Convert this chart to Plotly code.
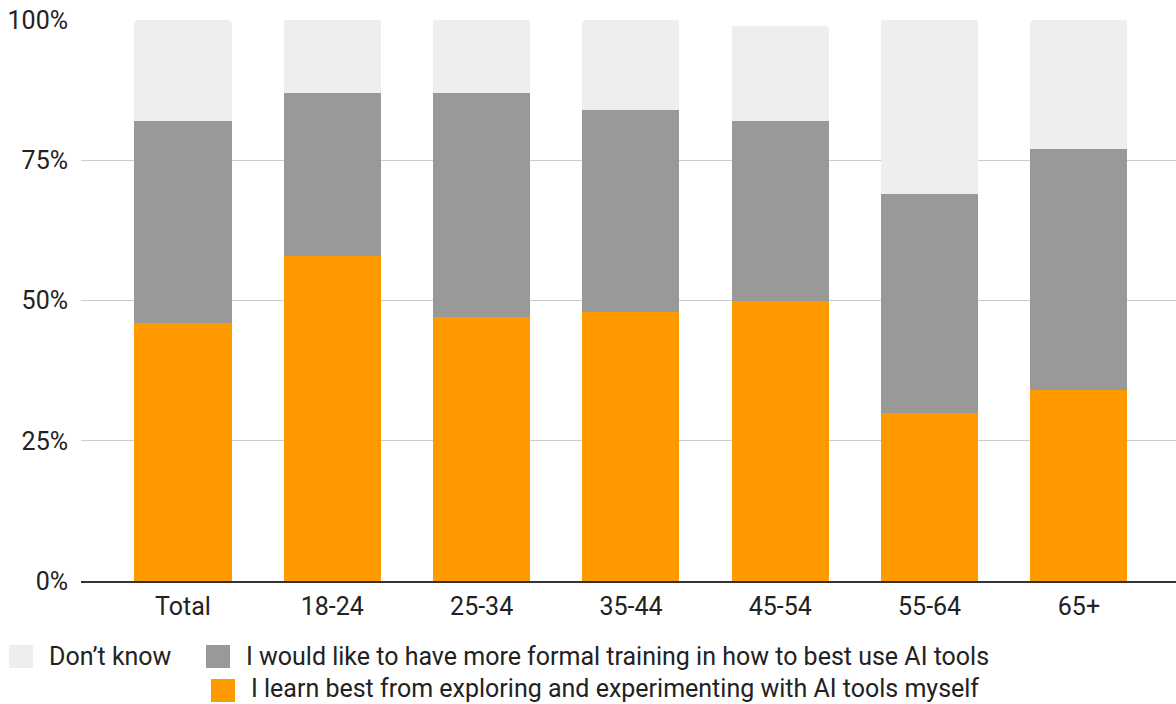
import plotly.graph_objects as go

# Survey breakdown by age group (percent of respondents)
categories = ["Total", "18-24", "25-34", "35-44", "45-54", "55-64", "65+"]
learn_by_exploring = [46, 58, 47, 48, 50, 30, 34]
formal_training = [36, 29, 40, 36, 32, 39, 43]
dont_know = [18, 13, 13, 16, 17, 31, 23]
y_ticks = [0, 25, 50, 75, 100]
y_tick_labels = ["0%", "25%", "50%", "75%", "100%"]

series = [
    ("I learn best from exploring and experimenting with AI tools myself", learn_by_exploring, "#FF9900"),
    ("I would like to have more formal training in how to best use AI tools", formal_training, "#999999"),
    ("Don’t know", dont_know, "#EEEEEE"),
]

FONT = "Roboto, 'Open Sans', Arial, sans-serif"
FS = 25
W, H = 1176, 704
L, R, T, B = 81, 0, 20, 123

fig = go.Figure()
for name, vals, color in series:
    fig.add_trace(go.Bar(
        x=categories, y=vals, name=name,
        marker=dict(color=color, line=dict(width=0)),
        width=0.65, showlegend=False,
    ))

fig.update_layout(
    width=W, height=H,
    margin=dict(l=L, r=R, t=T, b=B),
    barmode="stack", barcornerradius=3,
    paper_bgcolor="white", plot_bgcolor="white",
    font=dict(family=FONT, size=FS, color="#222222"),
    xaxis=dict(
        type="category", range=[-0.683, 6.65],
        showgrid=False, showline=True, linecolor="#333333", linewidth=2,
        ticks="", tickfont=dict(size=FS, color="#222222"),
        ticklabelstandoff=2,
    ),
    yaxis=dict(
        range=[0, 100], tickvals=y_ticks, ticktext=y_tick_labels,
        showgrid=True, gridcolor="#CCCCCC", gridwidth=1,
        zeroline=False, showline=False, ticks="",
        tickfont=dict(size=FS, color="#222222"),
        ticklabelstandoff=12,
    ),
)

# Custom two-row legend below the plot
pw, ph = W - L - R, H - T - B


def px_x(px):
    return (px - L) / pw


def px_y(py):
    return (H - B - py) / ph


legend_items = [
    (series[2][0], series[2][2], 9, 645, 656),
    (series[1][0], series[1][2], 206, 645, 656),
    (series[0][0], series[0][2], 211, 679, 688),
]
for name, color, sx, sy, ty in legend_items:
    fig.add_shape(
        type="rect", xref="paper", yref="paper",
        x0=px_x(sx), x1=px_x(sx + 24), y0=px_y(sy + 23), y1=px_y(sy),
        fillcolor=color, line=dict(width=0), layer="above",
    )
    fig.add_annotation(
        xref="paper", yref="paper", x=px_x(sx + 39), y=px_y(ty),
        text=name, showarrow=False, xanchor="left", yanchor="middle",
        borderpad=0,
        font=dict(family=FONT, size=FS, color="#222222"),
    )

fig.write_html("out.html")
